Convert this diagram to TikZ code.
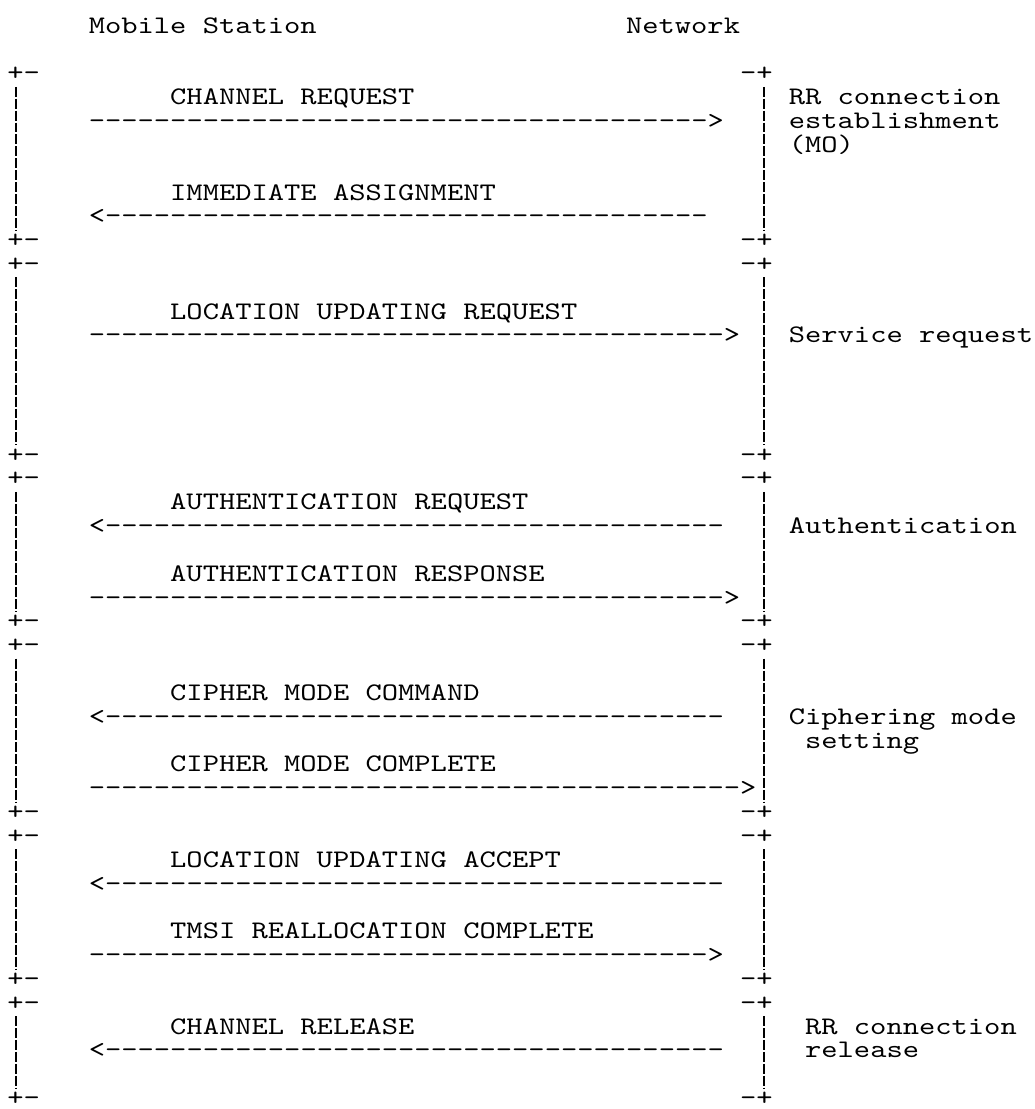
\documentclass[tikz,border=0pt]{standalone}
\usepackage{fontspec}
\setmonofont[FakeStretch=1.227,Ligatures=TeXOff,WordSpace={1,0,0}]{lmmono10-regular.otf}
\ExplSyntaxOn
\cs_new:Npn \dashrun #1 { \prg_replicate:nn {#1} { -\kern0pt } }
\ExplSyntaxOff
\tikzset{
  asc/.style={anchor=base west, inner sep=0pt, outer sep=0pt,
    font=\ttfamily\fontsize{12.64pt}{12pt}\selectfont},
  bar/.style={line width=1pt, dash pattern=on 4.96pt off 1pt},
}
\begin{document}
\begin{tikzpicture}[x=8.14pt, y=-11.915pt]
\fill[white] (-3.7pt,16.6pt) rectangle (513.3pt,-537.9pt);
\useasboundingbox (-3.7pt,16.6pt) rectangle (513.3pt,-537.9pt);

\node[asc] (ms) at (5,0) {Mobile Station};
\node[asc] (net) at (38,0) {Network};

\foreach \n/\t/\b in {A/2/9, B/10/18, C/19/25, D/26/33, E/34/40, F/41/45} {
  \node[asc] (\n TL) at (0,\t) {+-};
  \node[asc] (\n TR) at (45,\t) {-+};
  \node[asc] (\n BL) at (0,\b) {+-};
  \node[asc] (\n BR) at (45,\b) {-+};
  \coordinate (\n Lt) at (0.5,\t+0.247);
  \coordinate (\n Lb) at (0.5,\b-0.749);
  \coordinate (\n Rt) at (46.5,\t+0.247);
  \coordinate (\n Rb) at (46.5,\b-0.749);
  \draw[bar] (\n Lt) -- (\n Lb);
  \draw[bar] (\n Rt) -- (\n Rb);
}

\node[asc] (m1) at (10,3) {CHANNEL REQUEST};
\node[asc] (a1) at (5,4) {\dashrun{38}>};
\node[asc] (n1a) at (48,3) {RR connection};
\node[asc] (n1b) at (48,4) {establishment};
\node[asc] (n1c) at (48,5) {(MO)};
\node[asc] (m2) at (10,7) {IMMEDIATE ASSIGNMENT};
\node[asc] (a2) at (5,8) {<\dashrun{37}};

\node[asc] (m3) at (10,12) {LOCATION UPDATING REQUEST};
\node[asc] (a3) at (5,13) {\dashrun{39}>};
\node[asc] (n2) at (48,13) {Service request};

\node[asc] (m4) at (10,20) {AUTHENTICATION REQUEST};
\node[asc] (a4) at (5,21) {<\dashrun{38}};
\node[asc] (n3) at (48,21) {Authentication};
\node[asc] (m5) at (10,23) {AUTHENTICATION RESPONSE};
\node[asc] (a5) at (5,24) {\dashrun{39}>};

\node[asc] (m6) at (10,28) {CIPHER MODE COMMAND};
\node[asc] (a6) at (5,29) {<\dashrun{38}};
\node[asc] (n4a) at (48,29) {Ciphering mode};
\node[asc] (n4b) at (49,30) {setting};
\node[asc] (m7) at (10,31) {CIPHER MODE COMPLETE};
\node[asc] (a7) at (5,32) {\dashrun{40}>};

\node[asc] (m8) at (10,35) {LOCATION UPDATING ACCEPT};
\node[asc] (a8) at (5,36) {<\dashrun{38}};
\node[asc] (m9) at (10,38) {TMSI REALLOCATION COMPLETE};
\node[asc] (a9) at (5,39) {\dashrun{38}>};

\node[asc] (m10) at (10,42) {CHANNEL RELEASE};
\node[asc] (a10) at (5,43) {<\dashrun{38}};
\node[asc] (n5a) at (49,42) {RR connection};
\node[asc] (n5b) at (49,43) {release};
\end{tikzpicture}
\end{document}
